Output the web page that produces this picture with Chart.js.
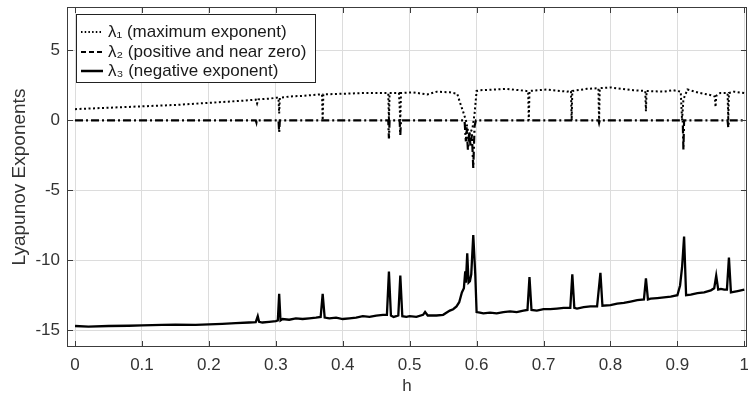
<!DOCTYPE html>
<html>
<head>
<meta charset="utf-8">
<script src="https://cdn.jsdelivr.net/npm/chart.js@4.4.1/dist/chart.umd.min.js"></script>
<style>
  body { margin: 0; background: #fff; }
  canvas { display: block; }
</style>
</head>
<body>
<canvas id="myChart" width="748" height="400"></canvas>
<script>
// tick labels
const xTicks = [0, 0.1, 0.2, 0.3, 0.4, 0.5, 0.6, 0.7, 0.8, 0.9, 1];
const yTicks = [-15, -10, -5, 0, 5];

const legendLabels = ['λ₁ (maximum exponent)', 'λ₂ (positive and near zero)', 'λ₃ (negative exponent)'];

// lambda 1 - maximum exponent
const h1 = [0, 0.05, 0.1, 0.15, 0.2, 0.25, 0.27, 0.272, 0.274, 0.29, 0.302, 0.304, 0.305, 0.306,
    0.32, 0.34, 0.366, 0.369, 0.37, 0.371, 0.4, 0.43, 0.466, 0.468, 0.469, 0.47, 0.484, 0.486, 0.487,
    0.505, 0.526, 0.541, 0.56, 0.571, 0.575, 0.58, 0.584, 0.587, 0.59, 0.594, 0.597, 0.6, 0.605,
    0.625, 0.645, 0.674, 0.677, 0.678, 0.679, 0.705, 0.735, 0.741, 0.742, 0.743, 0.765, 0.782,
    0.783, 0.784, 0.8, 0.834, 0.852, 0.853, 0.854, 0.879, 0.894, 0.905, 0.907, 0.909, 0.915,
    0.934, 0.95, 0.956, 0.957, 0.958, 0.964, 0.975, 0.976, 0.977, 0.984, 1.0];
const l1 = [0.8, 0.9, 1.0, 1.1, 1.25, 1.4, 1.48, 1.2, 1.5, 1.55, 1.62, 1.6, 0.5, 1.62,
    1.7, 1.75, 1.85, 1.85, 0.0, 1.85, 1.9, 1.95, 1.95, 1.95, 0.0, 1.95, 1.95, 0.0, 1.95,
    2.0, 1.85, 2.05, 2.0, 1.9, 1.3, 0.6, 0.0, -0.7, -1.0, -0.5, 0.5, 2.1, 2.15,
    2.2, 2.25, 2.1, 2.1, 0.0, 2.1, 2.2, 2.05, 2.1, 0.0, 2.1, 2.25, 2.3,
    -0.1, 2.3, 2.35, 2.15, 2.1, 0.65, 2.1, 2.05, 2.15, 2.05, 0.0, 1.5, 2.2,
    1.95, 1.8, 1.7, 0.95, 1.75, 1.95, 1.95, 0.0, 1.95, 2.05, 1.95];

// lambda 2 - near zero
const h2 = [0, 0.27, 0.271, 0.2715, 0.304, 0.305, 0.306, 0.468, 0.469, 0.47, 0.485, 0.486, 0.487,
    0.582, 0.584, 0.585, 0.587, 0.589, 0.591, 0.593, 0.595, 0.597, 0.599, 0.782, 0.783, 0.784,
    0.908, 0.909, 0.91, 0.975, 0.976, 0.977, 1.0];
const l2 = [0, 0, -0.15, 0, 0, -0.85, 0, 0, -1.3, 0, 0, -1.05, 0,
    0, -1.5, -0.5, -2.1, -0.8, -1.9, -1.0, -3.4, -0.4, 0, 0, -0.2, 0,
    0, -2.1, 0, 0, -0.5, 0, 0];

// lambda 3 - negative exponent
const h3 = [0, 0.02, 0.05, 0.08, 0.1, 0.13, 0.15, 0.18, 0.2, 0.22, 0.24, 0.26, 0.27, 0.273, 0.275,
    0.28, 0.29, 0.3, 0.303, 0.305, 0.307, 0.31, 0.32, 0.33, 0.34, 0.35, 0.36, 0.367, 0.37, 0.373,
    0.38, 0.39, 0.4, 0.41, 0.42, 0.43, 0.44, 0.45, 0.46, 0.466, 0.469, 0.472, 0.476, 0.48, 0.483,
    0.486, 0.489, 0.495, 0.5, 0.51, 0.52, 0.523, 0.527, 0.54, 0.55, 0.56, 0.565, 0.57, 0.574,
    0.578, 0.581, 0.583, 0.584, 0.586, 0.588, 0.59, 0.592, 0.595, 0.598, 0.6, 0.605, 0.61, 0.62,
    0.63, 0.64, 0.65, 0.66, 0.67, 0.676, 0.679, 0.682, 0.69, 0.7, 0.71, 0.72, 0.73, 0.74, 0.743,
    0.746, 0.75, 0.76, 0.77, 0.78, 0.785, 0.788, 0.8, 0.81, 0.82, 0.83, 0.84, 0.85, 0.853, 0.856,
    0.86, 0.87, 0.88, 0.89, 0.9, 0.904, 0.907, 0.91, 0.913, 0.92, 0.93, 0.94, 0.95, 0.955, 0.958,
    0.961, 0.965, 0.97, 0.974, 0.977, 0.98, 0.99, 1.0];
const l3 = [-14.7, -14.75, -14.7, -14.68, -14.65, -14.62, -14.6, -14.62, -14.58, -14.55, -14.5, -14.45, -14.42, -14.0, -14.4,
    -14.45, -14.4, -14.35, -14.3, -12.4, -14.3, -14.2, -14.25, -14.15, -14.2, -14.15, -14.1, -14.05, -12.4, -14.1,
    -14.15, -14.1, -14.2, -14.15, -14.1, -14.0, -14.05, -13.95, -13.9, -13.9, -10.8, -13.95, -14.05, -14.0, -13.95,
    -11.1, -14.0, -14.05, -14.0, -14.05, -13.9, -13.7, -13.95, -13.95, -13.9, -13.6, -13.5, -13.3, -13.0,
    -12.3, -12.0, -10.8, -11.6, -9.5, -11.6, -11.5, -11.0, -8.2, -11.0, -13.7, -13.75, -13.8, -13.75,
    -13.8, -13.7, -13.65, -13.7, -13.6, -13.55, -11.2, -13.55, -13.6, -13.5, -13.5, -13.45, -13.4, -13.4, -11.0,
    -13.4, -13.45, -13.35, -13.3, -13.3, -10.9, -13.25, -13.2, -13.1, -13.05, -12.95, -12.85, -12.8, -11.3, -12.8,
    -12.75, -12.7, -12.65, -12.6, -12.5, -11.8, -10.5, -8.3, -12.5, -12.45, -12.35, -12.3, -12.15, -12.0, -11.1,
    -12.1, -12.05, -12.1, -12.1, -9.8, -12.3, -12.2, -12.1];

const toPoints = (hs, vs) => hs.map((h, i) => ({ x: h, y: vs[i] }));

const FONT = "'Liberation Sans', Arial, sans-serif";

// frame, inner tick marks and legend box like matlab
const framePlugin = {
    id: 'frame',
    afterDraw(chart) {
        const { ctx, chartArea: a, scales } = chart;
        ctx.save();
        ctx.strokeStyle = '#3c3c3c';
        ctx.lineWidth = 1;
        ctx.setLineDash([]);
        ctx.beginPath();
        xTicks.forEach(v => {
            const px = Math.round(scales.x.getPixelForValue(v)) + 0.5;
            ctx.moveTo(px, a.bottom); ctx.lineTo(px, a.bottom - 6);
            ctx.moveTo(px, a.top); ctx.lineTo(px, a.top + 6);
        });
        yTicks.forEach(v => {
            const py = Math.round(scales.y.getPixelForValue(v)) + 0.5;
            ctx.moveTo(a.left, py); ctx.lineTo(a.left + 6, py);
            ctx.moveTo(a.right, py); ctx.lineTo(a.right - 6, py);
        });
        ctx.stroke();
        ctx.strokeRect(Math.round(a.left) + 0.5, Math.round(a.top) + 0.5,
            Math.round(a.right - a.left) - 1, Math.round(a.bottom - a.top) - 1);

        // legend
        const bx = 76.5, by = 14.5, bw = 239, bh = 68;
        ctx.fillStyle = '#fff';
        ctx.fillRect(bx, by, bw, bh);
        ctx.strokeStyle = '#222';
        ctx.strokeRect(bx, by, bw, bh);
        const rows = [32, 52, 71];
        const dashes = [[1.5, 2.2], [5, 3], []];
        const widths = [1.8, 2, 2.5];
        ctx.font = '17px ' + FONT;
        ctx.textBaseline = 'middle';
        rows.forEach((y, i) => {
            ctx.beginPath();
            ctx.setLineDash(dashes[i]);
            ctx.lineWidth = widths[i];
            ctx.strokeStyle = '#000';
            ctx.moveTo(81, y); ctx.lineTo(103, y);
            ctx.stroke();
            ctx.fillStyle = '#1a1a1a';
            ctx.fillText(legendLabels[i], 108, y);
        });
        ctx.restore();
    }
};

const ctx = document.getElementById('myChart').getContext('2d');
new Chart(ctx, {
    type: 'scatter',
    data: {
        datasets: [{
            label: legendLabels[0],
            data: toPoints(h1, l1),
            showLine: true,
            borderColor: '#000',
            borderWidth: 2,
            borderDash: [2, 2.5],
            pointRadius: 0
        }, {
            label: legendLabels[1],
            data: toPoints(h2, l2),
            showLine: true,
            borderColor: '#000',
            borderWidth: 2.2,
            borderDash: [8, 3, 2, 3],
            pointRadius: 0
        }, {
            label: legendLabels[2],
            data: toPoints(h3, l3),
            showLine: true,
            borderColor: '#000',
            borderWidth: 2.3,
            pointRadius: 0
        }]
    },
    options: {
        responsive: false,
        animation: false,
        layout: { padding: { top: 7, right: 1, left: 0, bottom: 0 } },
        plugins: {
            legend: { display: false },
            tooltip: { enabled: false }
        },
        scales: {
            x: {
                type: 'linear',
                min: -0.012,
                max: 1.004,
                afterBuildTicks: s => { s.ticks = xTicks.map(v => ({ value: v })); },
                afterFit: s => { s.height = 53; s.paddingLeft = 0; s.paddingRight = 0; },
                grid: { color: '#dcdcdc', drawTicks: false },
                border: { display: false },
                ticks: {
                    padding: 8,
                    color: '#333',
                    font: { family: FONT, size: 17 },
                    callback: v => String(v)
                },
                title: {
                    display: true,
                    text: 'h',
                    color: '#333',
                    font: { family: FONT, size: 17 },
                    padding: { top: 0, bottom: 3 }
                }
            },
            y: {
                min: -16.2,
                max: 8.1,
                afterBuildTicks: s => { s.ticks = yTicks.map(v => ({ value: v })); },
                afterFit: s => { s.width = 67; s.paddingTop = 0; s.paddingBottom = 0; },
                grid: { color: '#dcdcdc', drawTicks: false },
                border: { display: false },
                ticks: {
                    padding: 7,
                    color: '#333',
                    font: { family: FONT, size: 17 }
                },
                title: {
                    display: true,
                    text: 'Lyapunov Exponents',
                    color: '#333',
                    font: { family: FONT, size: 19 },
                    padding: { top: 8, bottom: 0 }
                }
            }
        }
    },
    plugins: [framePlugin]
});
</script>
</body>
</html>
